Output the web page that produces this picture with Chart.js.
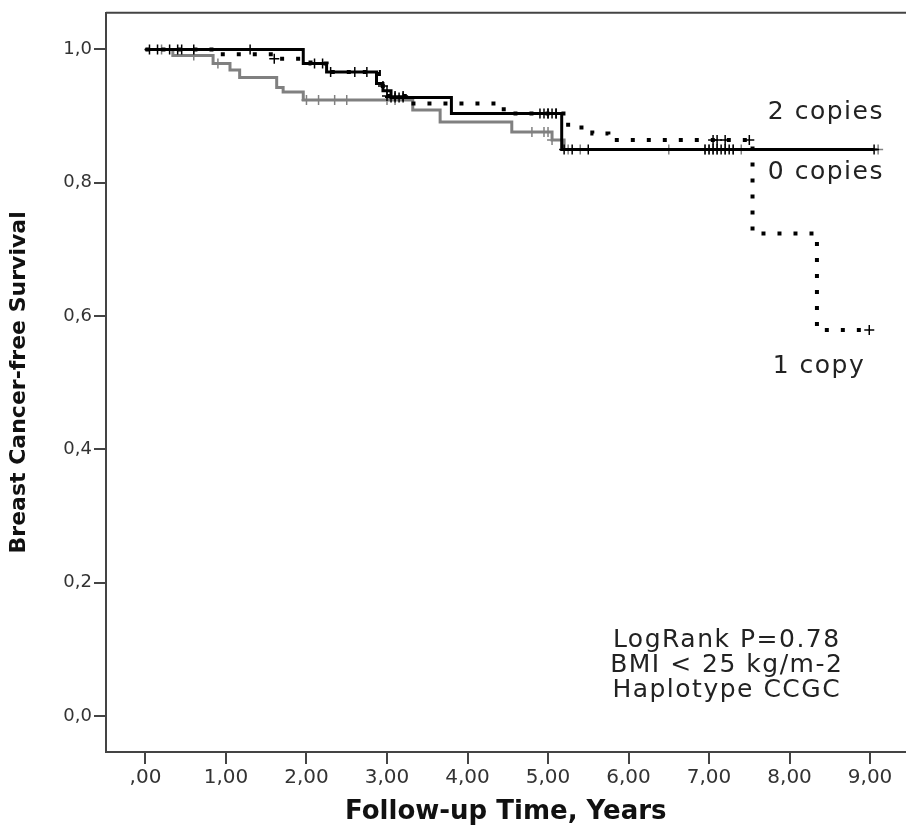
<!DOCTYPE html>
<html>
<head>
<meta charset="utf-8">
<script src="https://cdn.jsdelivr.net/npm/chart.js@4.4.1/dist/chart.umd.min.js"></script>
<style>
    body { margin: 0; background: #fff; overflow: hidden; }
    #wrap { width: 906px; height: 828px; overflow: hidden; }
</style>
</head>
<body>
<div id="wrap"><canvas id="kmChart" width="912" height="828"></canvas></div>
<script>
// step points (time, survival)
const twoTimes = [0, 1.96, 2.25, 2.87, 2.95, 3.05, 3.8, 5.17, 9.05];
const twoSurv  = [1.0, 0.979, 0.966, 0.949, 0.938, 0.928, 0.904, 0.85, 0.85];

const zeroTimes = [0, 0.34, 0.84, 1.05, 1.17, 1.63, 1.71, 1.96, 3.32, 3.66, 4.55, 5.05, 5.2, 9.1];
const zeroSurv  = [1.0, 0.991, 0.979, 0.969, 0.958, 0.943, 0.936, 0.924, 0.909, 0.891, 0.876, 0.864, 0.85, 0.85];

const oneTimes = [0, 0.9, 1.6, 2.05, 2.25, 2.9, 3.0, 3.3, 4.45, 5.25, 5.55, 5.75, 7.54, 8.34, 8.99];
const oneSurv  = [1.0, 0.993, 0.986, 0.979, 0.966, 0.945, 0.93, 0.919, 0.904, 0.883, 0.874, 0.864, 0.724, 0.579, 0.579];

// censored times
const twoCens  = [0.05, 0.15, 0.3, 0.45, 0.6, 1.3, 2.1, 2.3, 2.6, 2.75, 3.0, 3.05, 3.1, 3.15, 3.2, 4.9, 4.95, 5.0, 5.05, 5.1, 5.2, 5.3, 5.5, 6.95, 7.0, 7.05, 7.1, 7.15, 7.2, 7.25, 7.3, 9.05];
const zeroCens = [0.2, 0.6, 0.9, 2.0, 2.15, 2.35, 2.5, 3.0, 3.1, 4.8, 4.95, 5.0, 5.05, 5.25, 5.4, 6.5, 6.95, 7.0, 7.05, 7.1, 7.2, 7.3, 7.4, 9.1];
const oneCens  = [0.4, 1.6, 2.2, 2.95, 3.0, 3.1, 3.2, 5.0, 5.1, 7.05, 7.1, 7.2, 7.5, 8.99];

const xTickVals = [0, 1, 2, 3, 4, 5, 6, 7, 8, 9];
const xTickLabels = [",00", "1,00", "2,00", "3,00", "4,00", "5,00", "6,00", "7,00", "8,00", "9,00"];
const yTickVals = [0, 0.2, 0.4, 0.6, 0.8, 1.0];
const yTickLabels = ["0,0", "0,2", "0,4", "0,6", "0,8", "1,0"];

const groupLabels = ["2 copies", "0 copies", "1 copy"];
const noteLines = ["LogRank P=0.78", "BMI < 25 kg/m-2", "Haplotype CCGC"];

function toPoints(times, surv) {
    return times.map((t, i) => ({ x: t, y: surv[i] }));
}

function censPoints(cens, times, surv) {
    return cens.map(t => {
        let s = surv[0];
        for (let i = 0; i < times.length; i++) {
            if (times[i] <= t) s = surv[i];
        }
        return { x: t, y: s };
    });
}

const frameAndText = {
    id: "frameAndText",
    afterDraw(chart) {
        const ctx = chart.ctx;
        const area = chart.chartArea;
        const xs = chart.scales.x;
        const ys = chart.scales.y;

        ctx.save();
        ctx.strokeStyle = "#444";
        ctx.lineWidth = 2;
        ctx.beginPath();
        ctx.moveTo(area.left, area.top);
        ctx.lineTo(chart.width, area.top);
        ctx.stroke();

        ctx.fillStyle = "#222";
        ctx.font = "25px 'DejaVu Sans'";
        ctx.letterSpacing = "1.5px";
        ctx.textBaseline = "middle";
        ctx.textAlign = "left";
        ctx.fillText(groupLabels[0], xs.getPixelForValue(7.73), ys.getPixelForValue(0.906));
        ctx.fillText(groupLabels[1], xs.getPixelForValue(7.73), ys.getPixelForValue(0.816));
        ctx.fillText(groupLabels[2], xs.getPixelForValue(7.79), ys.getPixelForValue(0.525));

        ctx.textAlign = "center";
        const noteY = [0.114, 0.076, 0.039];
        noteLines.forEach((line, i) => {
            ctx.fillText(line, xs.getPixelForValue(7.22), ys.getPixelForValue(noteY[i]));
        });
        ctx.restore();
    }
};

new Chart(document.getElementById("kmChart"), {
    type: "scatter",
    data: {
        datasets: [
            {
                label: groupLabels[2],
                data: toPoints(oneTimes, oneSurv),
                showLine: true,
                stepped: "before",
                borderColor: "#000",
                borderWidth: 4,
                borderDash: [4, 12],
                borderCapStyle: "butt",
                pointRadius: 0,
                order: 0
            },
            {
                label: groupLabels[2] + " censored",
                data: censPoints(oneCens, oneTimes, oneSurv),
                pointStyle: "cross",
                pointRadius: 5,
                borderColor: "#000",
                borderWidth: 1.5,
                order: 0
            },
            {
                label: groupLabels[0],
                data: toPoints(twoTimes, twoSurv),
                showLine: true,
                stepped: "before",
                borderColor: "#000",
                borderWidth: 3,
                pointRadius: 0,
                order: 1
            },
            {
                label: groupLabels[0] + " censored",
                data: censPoints(twoCens, twoTimes, twoSurv),
                pointStyle: "cross",
                pointRadius: 5,
                borderColor: "#000",
                borderWidth: 1.5,
                order: 1
            },
            {
                label: groupLabels[1],
                data: toPoints(zeroTimes, zeroSurv),
                showLine: true,
                stepped: "before",
                borderColor: "#808080",
                borderWidth: 3,
                pointRadius: 0,
                order: 2
            },
            {
                label: groupLabels[1] + " censored",
                data: censPoints(zeroCens, zeroTimes, zeroSurv),
                pointStyle: "cross",
                pointRadius: 5,
                borderColor: "#808080",
                borderWidth: 1.5,
                order: 2
            }
        ]
    },
    options: {
        responsive: false,
        animation: false,
        layout: { padding: { top: 12, right: 0, left: 0, bottom: 0 } },
        plugins: {
            legend: { display: false },
            tooltip: { enabled: false }
        },
        scales: {
            x: {
                type: "linear",
                min: -0.49,
                max: 9.44,
                afterBuildTicks: scale => { scale.ticks = xTickVals.map(v => ({ value: v })); },
                afterFit: scale => { scale.height = 76; },
                grid: { drawOnChartArea: false, drawTicks: true, tickLength: 12, color: "#444", lineWidth: 2 },
                border: { display: true, color: "#444", width: 2 },
                ticks: {
                    color: "#333",
                    font: { family: "DejaVu Sans", size: 20 },
                    padding: 2,
                    maxRotation: 0,
                    callback: (v, i) => xTickLabels[i]
                },
                title: {
                    display: true,
                    text: "Follow-up Time, Years",
                    color: "#111",
                    font: { family: "DejaVu Sans", size: 26, weight: "bold" },
                    padding: { top: 0, bottom: 0 }
                }
            },
            y: {
                min: -0.054,
                max: 1.055,
                afterBuildTicks: scale => { scale.ticks = yTickVals.map(v => ({ value: v })); },
                afterFit: scale => { scale.width = 106; },
                grid: { drawOnChartArea: false, drawTicks: true, tickLength: 12, color: "#444", lineWidth: 2 },
                border: { display: true, color: "#444", width: 2 },
                ticks: {
                    color: "#333",
                    font: { family: "DejaVu Sans", size: 18 },
                    padding: 2,
                    callback: (v, i) => yTickLabels[i]
                },
                title: {
                    display: true,
                    text: "Breast Cancer-free Survival",
                    color: "#111",
                    font: { family: "DejaVu Sans", size: 22, weight: "bold" },
                    padding: { top: 6, bottom: 0 }
                }
            }
        }
    },
    plugins: [frameAndText]
});
</script>
</body>
</html>
